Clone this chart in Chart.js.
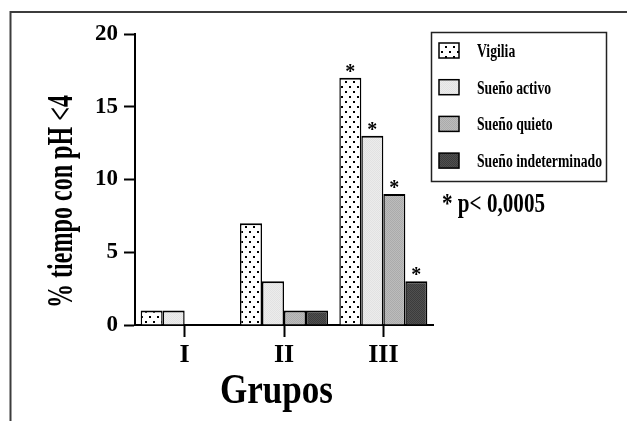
<!DOCTYPE html>
<html>
<head>
<meta charset="utf-8">
<script src="https://cdn.jsdelivr.net/npm/chart.js@4.4.0/dist/chart.umd.min.js"></script>
<style>
body { margin: 0; background: #fff; }
#caja { width: 627px; height: 421px; position: relative; }
</style>
</head>
<body>
<div id="caja"><canvas id="grafico"></canvas></div>
<script>
var grupos = ['I', 'II', 'III'];
var vigilia = [1, 7, 17];
var suenoActivo = [1, 3, 13];
var suenoQuieto = [0, 1, 9];
var suenoIndet = [0, 1, 3];
var nombres = ['Vigilia', 'Sueño activo', 'Sueño quieto', 'Sueño indeterminado'];
var ticksY = [0, 5, 10, 15, 20];
var significativo = [false, false, true];
var nota = '* p< 0,0005';

var fuente = '"Liberation Serif", "Times New Roman", serif';

// tramas de relleno de las barras
function trama(tipo) {
  var c = document.createElement('canvas');
  var g = c.getContext('2d');
  if (tipo == 'puntos') {
    c.width = 8; c.height = 10;
    g.fillStyle = '#fff'; g.fillRect(0, 0, 8, 10);
    g.fillStyle = '#000';
    g.fillRect(1, 1, 2, 2);
    g.fillRect(5, 6, 2, 2);
  } else {
    var a = tipo[0], b = tipo[1];
    c.width = 2; c.height = 2;
    g.fillStyle = a; g.fillRect(0, 0, 2, 2);
    g.fillStyle = b; g.fillRect(0, 0, 1, 1); g.fillRect(1, 1, 1, 1);
  }
  return g.createPattern(c, 'repeat');
}

var rellenos = [
  trama('puntos'),
  trama(['#ececec', '#e2e2e2']),
  trama(['#bcbcbc', '#ababab']),
  trama(['#505050', '#3c3c3c'])
];
var valores = [vigilia, suenoActivo, suenoQuieto, suenoIndet];

function textoAngosto(ctx, txt, x, y, tam, escala, alinear) {
  ctx.save();
  ctx.font = 'bold ' + tam + 'px ' + fuente;
  ctx.textAlign = alinear;
  ctx.textBaseline = 'alphabetic';
  ctx.translate(x, y);
  ctx.scale(escala, 1);
  ctx.fillText(txt, 0, 0);
  ctx.restore();
}

function escalaPara(ctx, txt, tam, ancho) {
  ctx.font = 'bold ' + tam + 'px ' + fuente;
  return ancho / ctx.measureText(txt).width;
}

var dibujoExtra = {
  id: 'dibujoExtra',
  afterDraw: function(chart) {
    var ctx = chart.ctx;
    ctx.save();
    ctx.fillStyle = '#000';

    // marco
    ctx.strokeStyle = '#3c3c3c';
    ctx.lineWidth = 2;
    ctx.beginPath();
    ctx.moveTo(10.5, 421);
    ctx.lineTo(10.5, 12);
    ctx.lineTo(627, 12);
    ctx.stroke();

    // titulo eje y
    var ty = '% tiempo con pH <4';
    var ey = escalaPara(ctx, ty, 35, 213);
    ctx.save();
    ctx.translate(72, 201.5);
    ctx.rotate(-Math.PI / 2);
    textoAngosto(ctx, ty, 0, 0, 35, ey, 'center');
    ctx.restore();

    // titulo eje x
    var tx = 'Grupos';
    textoAngosto(ctx, tx, 276.5, 403, 42, escalaPara(ctx, tx, 42, 113), 'center');

    // asteriscos
    ctx.font = 'bold 20px ' + fuente;
    ctx.textAlign = 'center';
    ctx.textBaseline = 'alphabetic';
    for (var d = 0; d < valores.length; d++) {
      var meta = chart.getDatasetMeta(d);
      for (var i = 0; i < grupos.length; i++) {
        if (!significativo[i]) continue;
        var barra = meta.data[i];
        ctx.fillText('*', barra.x, barra.y);
      }
    }

    // leyenda
    ctx.strokeStyle = '#222';
    ctx.lineWidth = 1.5;
    ctx.strokeRect(431.5, 32.5, 175, 149);
    for (var k = 0; k < nombres.length; k++) {
      var arriba = 43 + k * 36.7;
      ctx.fillStyle = rellenos[k];
      ctx.fillRect(439, arriba, 20, 15);
      ctx.strokeStyle = '#000';
      ctx.lineWidth = 1.5;
      ctx.strokeRect(439, arriba, 20, 15);
      ctx.fillStyle = '#000';
      textoAngosto(ctx, nombres[k], 477, arriba + 14, 18, 0.76, 'left');
    }

    // nota de significacion
    textoAngosto(ctx, nota, 442, 212, 27, escalaPara(ctx, nota, 27, 103), 'left');

    ctx.restore();
  }
};

var conjuntos = [];
for (var n = 0; n < nombres.length; n++) {
  conjuntos.push({
    label: nombres[n],
    data: valores[n],
    backgroundColor: rellenos[n],
    borderColor: '#000',
    borderWidth: { top: 2, left: 1.5, right: 1.5, bottom: 0 },
    borderSkipped: 'bottom'
  });
}

new Chart(document.getElementById('grafico'), {
  type: 'bar',
  data: { labels: grupos, datasets: conjuntos },
  options: {
    responsive: true,
    maintainAspectRatio: false,
    animation: false,
    layout: { padding: { top: 34, right: 194, bottom: 0, left: 0 } },
    datasets: { bar: { barPercentage: 1, categoryPercentage: 0.886 } },
    plugins: {
      legend: { display: false },
      tooltip: { enabled: false }
    },
    scales: {
      x: {
        offset: true,
        grid: { offset: false, drawOnChartArea: false, tickLength: 12, tickColor: '#000', tickWidth: 2 },
        border: { color: '#000', width: 2 },
        ticks: { color: '#000', padding: 3, font: { family: fuente, size: 26, weight: 'bold' } },
        afterFit: function(s) { s.height = 96; }
      },
      y: {
        min: ticksY[0],
        max: ticksY[ticksY.length - 1],
        grid: { drawOnChartArea: false, tickLength: 11, tickColor: '#000', tickWidth: 2 },
        border: { color: '#000', width: 2 },
        ticks: { stepSize: ticksY[1] - ticksY[0], color: '#000', padding: 6, font: { family: fuente, size: 23, weight: 'bold' } },
        afterFit: function(s) { s.width = 135; }
      }
    }
  },
  plugins: [dibujoExtra]
});
</script>
</body>
</html>
